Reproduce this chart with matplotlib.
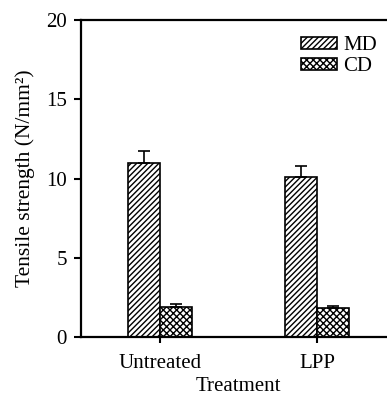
import numpy as np
import matplotlib
matplotlib.use("Agg")
import matplotlib.pyplot as plt

plt.rcParams['font.family'] = ['Liberation Serif', 'DejaVu Serif']
plt.rcParams['hatch.linewidth'] = 1.0

treatments = ["Untreated", "LPP"]
md_mean = [11.0, 10.1]
md_err = [0.75, 0.7]
cd_mean = [1.9, 1.85]
cd_err = [0.15, 0.12]
yticks = [0, 5, 10, 15, 20]

fig = plt.figure(figsize=(3.87, 3.95), dpi=100)
ax = fig.add_axes([0.209, 0.147, 0.813, 0.802])

x = np.arange(len(treatments))
w = 0.204
err_kw = dict(ecolor='black', elinewidth=1.2, capsize=4, capthick=1.2)
ax.bar(x - w / 2, md_mean, w, yerr=[np.zeros(2), md_err], color='white',
       edgecolor='black', linewidth=1.2, hatch='//////', label='MD', error_kw=err_kw)
ax.bar(x + w / 2, cd_mean, w, yerr=[np.zeros(2), cd_err], color='white',
       edgecolor='black', linewidth=1.2, hatch='xxxxx', label='CD', error_kw=err_kw)

ax.set_xlim(-0.503, 1.5)
ax.set_ylim(0, 20)
ax.set_xticks(x)
ax.set_xticklabels(treatments, fontsize=15)
ax.set_yticks(yticks)
ax.set_yticklabels([str(t) for t in yticks], fontsize=15)
ax.tick_params(axis='y', direction='out', length=5, width=1.5, pad=5)
ax.tick_params(axis='x', direction='out', length=4, width=1.5, pad=8)
ax.spines['right'].set_visible(False)
for s in ['left', 'top', 'bottom']:
    ax.spines[s].set_linewidth(1.6)

ax.set_xlabel("Treatment", fontsize=15, labelpad=3)
ax.set_ylabel("Tensile strength (N/mm²)", fontsize=15.5, labelpad=8)

ax.legend(loc='upper left', bbox_to_anchor=(0.75, 0.935), bbox_transform=fig.transFigure,
          frameon=False, fontsize=15, handlelength=1.75, handleheight=0.5,
          handletextpad=0.3, labelspacing=0.1, borderpad=0)

fig.savefig("out.png", dpi=100)
